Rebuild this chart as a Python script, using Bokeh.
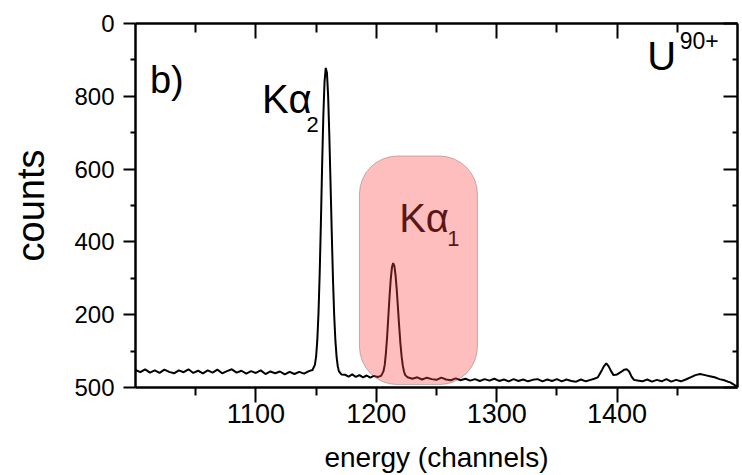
from bokeh.plotting import figure
from bokeh.models import Range1d, LinearAxis, FixedTicker, BoxAnnotation
from bokeh.core.properties import value
from bokeh.embed import file_html
from bokeh.resources import INLINE

# ---- data ----
channel = [
    1000, 1004, 1008, 1012, 1016, 1020, 1024, 1028, 1032, 1036,
    1040, 1044, 1048, 1052, 1056, 1060, 1064, 1068, 1072, 1076,
    1080, 1084, 1088, 1092, 1096, 1100, 1104, 1108, 1112, 1116,
    1120, 1124, 1128, 1132, 1136, 1140, 1144, 1147, 1149, 1150,
    1151, 1152, 1153, 1154, 1155, 1156, 1157, 1158, 1159, 1160,
    1161, 1162, 1163, 1164, 1165, 1166, 1167, 1168, 1169, 1171,
    1174, 1177, 1180, 1183, 1186, 1189, 1192, 1195, 1198, 1201,
    1204, 1206, 1207, 1208, 1209, 1210, 1211, 1212, 1213, 1214,
    1215, 1216, 1217, 1218, 1219, 1220, 1221, 1222, 1223, 1224,
    1226, 1230, 1234, 1238, 1242, 1246, 1250, 1254, 1258, 1262,
    1266, 1270, 1274, 1278, 1282, 1286, 1290, 1294, 1298, 1302,
    1306, 1310, 1314, 1318, 1322, 1326, 1330, 1334, 1338, 1342,
    1346, 1350, 1354, 1358, 1362, 1366, 1370, 1374, 1378, 1381,
    1384, 1387, 1389, 1391, 1393, 1395, 1397, 1400, 1403, 1406,
    1408, 1410, 1412, 1414, 1417, 1421, 1425, 1429, 1433, 1437,
    1441, 1445, 1449, 1453, 1457, 1461, 1465, 1469, 1473, 1477,
    1481, 1485, 1489, 1492, 1494, 1496, 1498, 1500,
]
counts = [
    48, 42, 50, 41, 47, 40, 49, 43, 39, 47,
    42, 50, 40, 46, 39, 47, 41, 49, 39, 45,
    50, 41, 46, 38, 45, 40, 47, 37, 44, 39,
    44, 36, 43, 37, 43, 38, 45, 48, 62, 85,
    130, 205, 315, 455, 610, 745, 840, 878, 865, 800,
    690, 560, 425, 300, 200, 130, 85, 58, 44, 36,
    35, 30, 36, 29, 34, 28, 33, 27, 32, 29,
    32, 45, 62, 95, 140, 195, 250, 298, 330, 342,
    334, 308, 268, 218, 168, 122, 86, 60, 44, 34,
    28, 24, 28, 22, 27, 23, 21, 27, 22, 20,
    25, 20, 24, 19, 23, 18, 23, 19, 24, 18,
    22, 17, 23, 18, 22, 17, 21, 23, 17, 22,
    18, 23, 17, 22, 18, 16, 22, 17, 21, 24,
    28, 45, 58, 66, 58, 45, 34, 36, 42, 49,
    50, 44, 30, 21, 19, 17, 22, 16, 21, 17,
    23, 16, 21, 17, 22, 28, 34, 37, 34, 31,
    28, 23, 20, 16, 14, 10, 6, 3,
]

x_major = [1100, 1200, 1300, 1400]
x_minor = [1050, 1150, 1250, 1350, 1450]
x_labels = {1100: "1100", 1200: "1200", 1300: "1300", 1400: "1400"}
y_major = [0, 200, 400, 600, 800, 1000]
y_minor = [100, 300, 500, 700, 900]
y_labels = {0: "500", 200: "200", 400: "400", 600: "600", 800: "800", 1000: "0"}

FONT = "Liberation Sans"

p = figure(width=742, height=475, x_range=Range1d(1000, 1500), y_range=Range1d(0, 1000),
           output_backend="svg", toolbar_location=None,
           min_border_left=135, min_border_right=5, min_border_top=23, min_border_bottom=87,
           x_axis_label="energy (channels)", y_axis_label="counts")
p.grid.visible = False
p.outline_line_color = None
p.background_fill_color = "white"
p.border_fill_color = "white"

xt = FixedTicker(ticks=x_major, minor_ticks=x_minor)
yt = FixedTicker(ticks=y_major, minor_ticks=y_minor)

def style(ax):
    ax.axis_line_color = "black"
    ax.axis_line_width = 2.5
    ax.major_tick_line_color = "black"
    ax.major_tick_line_width = 2
    ax.minor_tick_line_color = "black"
    ax.minor_tick_line_width = 2
    ax.major_label_text_font = FONT
    ax.axis_label_text_font = FONT
    ax.axis_label_text_font_style = "normal"
    ax.major_label_text_color = "black"
    ax.axis_label_text_color = "black"

bx = p.xaxis[0]
bx.ticker = xt
bx.major_label_overrides = x_labels
style(bx)
bx.major_tick_in = 0
bx.major_tick_out = 15
bx.minor_tick_in = 0
bx.minor_tick_out = 8
bx.major_label_text_font_size = "27px"
bx.major_label_standoff = 1
bx.axis_label_text_font_size = "28px"
bx.axis_label_standoff = 16

ly = p.yaxis[0]
ly.ticker = yt
ly.major_label_overrides = y_labels
style(ly)
ly.major_tick_in = 0
ly.major_tick_out = 12
ly.minor_tick_in = 0
ly.minor_tick_out = 5
ly.major_label_text_font_size = "24px"
ly.major_label_standoff = 9
ly.axis_label_text_font_size = "38px"
ly.axis_label_standoff = 19

blank_x = {t: "" for t in x_major}
blank_y = {t: "" for t in y_major}

top = LinearAxis(ticker=xt, major_label_overrides=blank_x, major_label_standoff=0)
style(top)
top.major_tick_in = 15
top.major_tick_out = 0
top.minor_tick_in = 9
top.minor_tick_out = 0
p.add_layout(top, "above")

right = LinearAxis(ticker=yt, major_label_overrides=blank_y, major_label_standoff=0)
style(right)
right.major_tick_in = 14
right.major_tick_out = 0
right.minor_tick_in = 5
right.minor_tick_out = 0
p.add_layout(right, "right")

p.line(channel, counts, line_color="black", line_width=2)

def txt(x, y, s, size):
    p.text(x=[x], y=[y], text=[s], text_font=value(FONT), text_font_size=value(size),
           text_color="black", text_align="left", text_baseline="alphabetic")

txt(1012, 844, "b)", "38px")
txt(1105, 792, "K\u03b1", "40px")
txt(1142, 723, "2", "22px")
txt(1219, 465, "K\u03b1", "40px")
txt(1259, 408, "1", "22px")
txt(1425, 910, "U", "40px")
txt(1452, 954, "90+", "23px")

box = BoxAnnotation(left=1186, right=1284, bottom=8, top=636,
                    fill_color="#ff4545", fill_alpha=0.35,
                    line_color="#333333", line_width=1, border_radius=38)
p.add_layout(box)

open("out.html", "w").write(file_html(p, INLINE))
